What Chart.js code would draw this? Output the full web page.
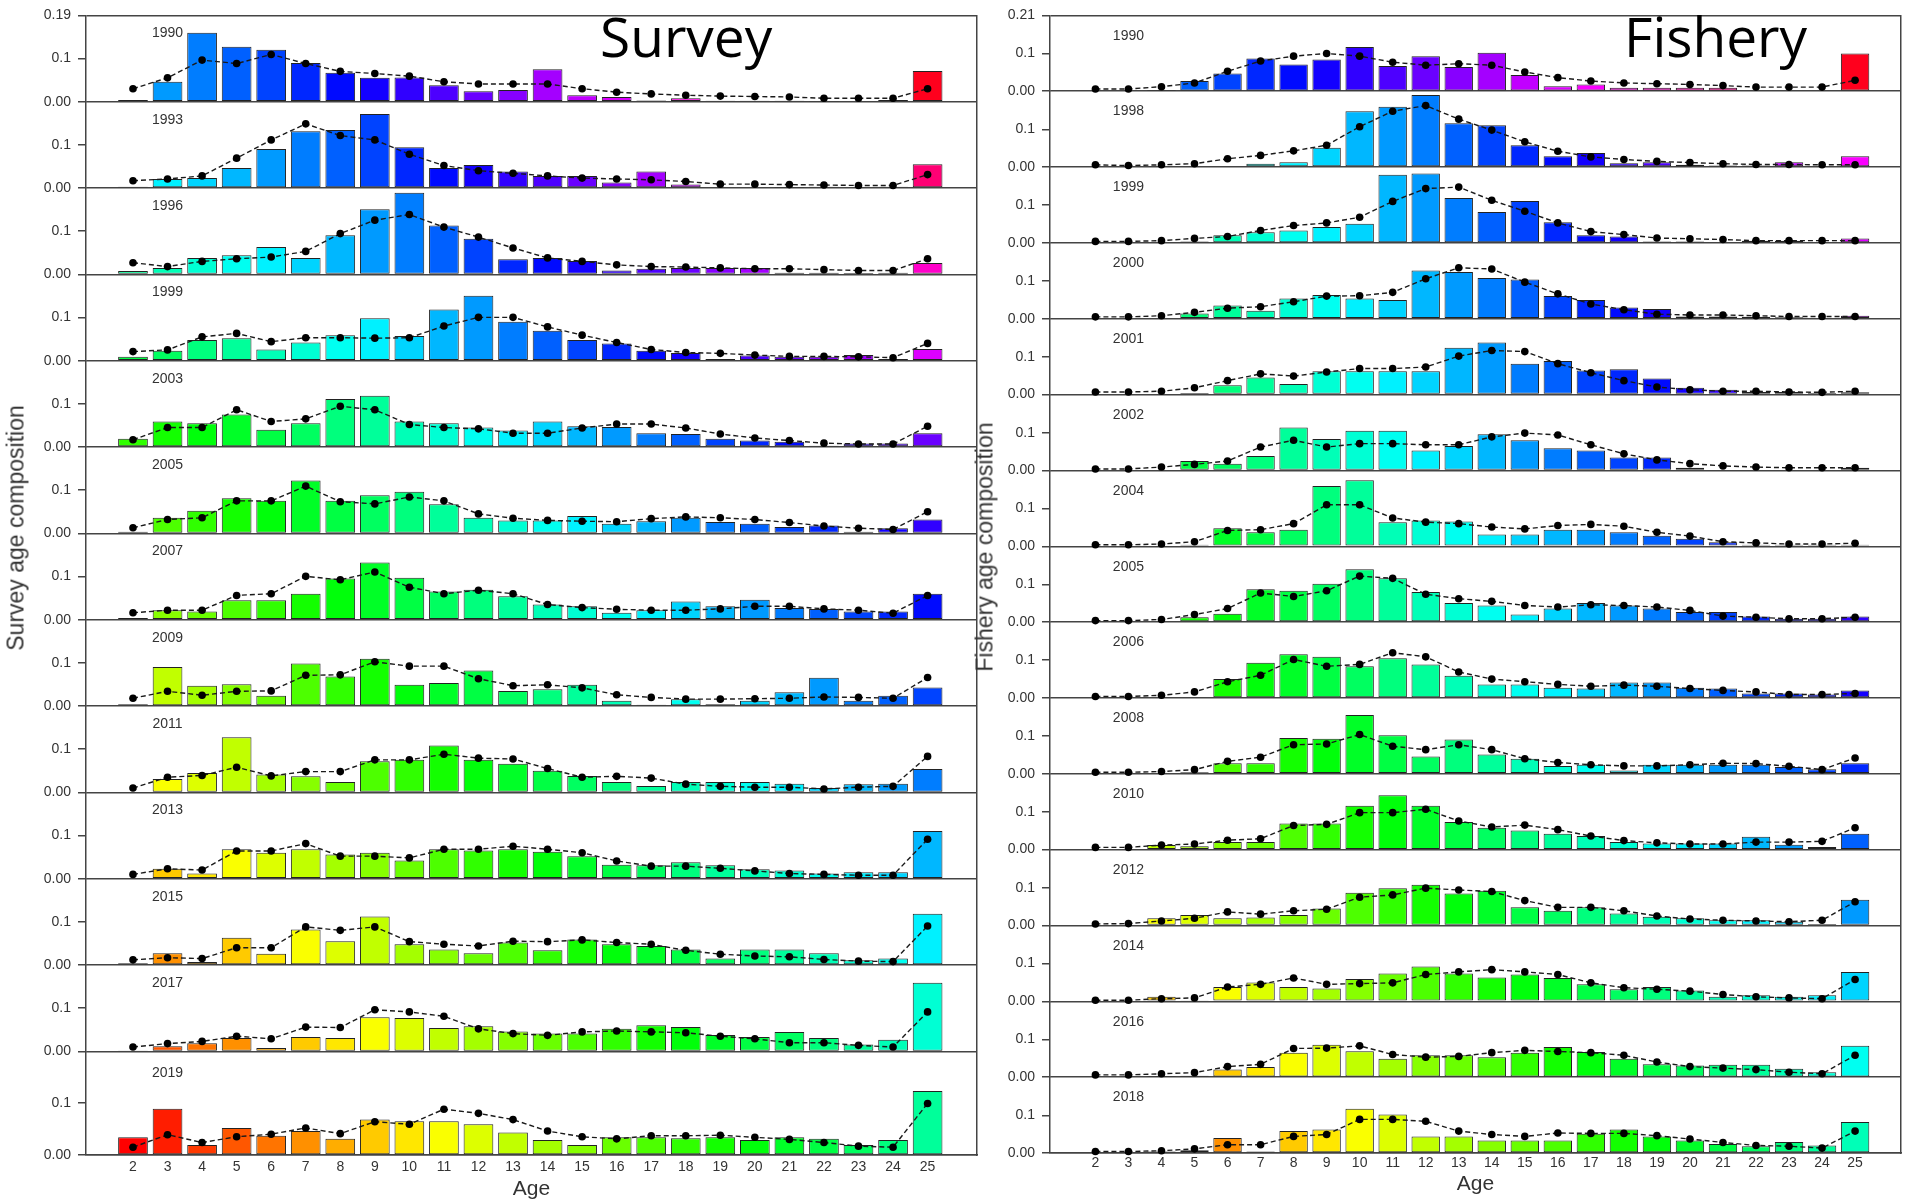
<!DOCTYPE html>
<html>
<head>
<meta charset="utf-8">
<script src="https://cdn.jsdelivr.net/npm/chart.js@4.4.0/dist/chart.umd.min.js"></script>
<style>
html,body{margin:0;padding:0;background:#fff;}
body{width:1905px;height:1202px;position:relative;overflow:hidden;font-family:"Liberation Sans",Arial,sans-serif;}
#wrapS{position:absolute;left:0;top:0;width:985px;height:1202px;}
#wrapF{position:absolute;left:985px;top:0;width:920px;height:1202px;}
.ttl{position:absolute;font-family:"Open Sans",sans-serif;font-size:55px;line-height:1;color:#000;white-space:nowrap;}
.ytl{position:absolute;font-family:"Liberation Sans",Arial,sans-serif;font-size:23px;line-height:1;color:#333;white-space:nowrap;transform:translate(-50%,-50%) rotate(-90deg);}
</style>
</head>
<body>
<div id="wrapS"><canvas id="cS"></canvas></div>
<div id="wrapF"><canvas id="cF"></canvas></div>
<div class="ttl" style="left:600px;top:8px;">Survey</div>
<div class="ttl" style="left:1624px;top:8px;">Fishery</div>
<div class="ytl" style="left:16px;top:528px;">Survey age composition</div>
<div class="ytl" style="left:985px;top:547px;">Fishery age composition</div>
<script>
// ---------- categories ----------
const ages = [2,3,4,5,6,7,8,9,10,11,12,13,14,15,16,17,18,19,20,21,22,23,24,25];
const surveyYears = [1990,1993,1996,1999,2003,2005,2007,2009,2011,2013,2015,2017,2019];
const fisheryYears = [1990,1998,1999,2000,2001,2002,2004,2005,2006,2008,2010,2012,2014,2016,2018];

// ---------- y tick labels ----------
const yTickValues = [0, 0.1];
const yTickLabels = ['0.00', '0.1'];
const surveyYMax = 0.199, surveyTopLabel = '0.19';
const fisheryYMax = 0.201, fisheryTopLabel = '0.21';

// ---------- survey: observed (bars) and expected (dots) ----------
const s1990obs = [0.004,0.046,0.159,0.127,0.12,0.089,0.067,0.055,0.056,0.038,0.024,0.027,0.075,0.015,0.011,0.003,0.008,0.002,0.002,0.002,0.001,0,0.004,0.071];
const s1990exp = [0.030,0.055,0.096,0.088,0.109,0.088,0.070,0.065,0.059,0.046,0.041,0.041,0.041,0.030,0.022,0.018,0.015,0.013,0.012,0.011,0.008,0.008,0.008,0.030];
const s1993obs = [0.003,0.021,0.023,0.046,0.09,0.131,0.134,0.171,0.094,0.046,0.053,0.038,0.028,0.028,0.013,0.038,0.008,0.002,0,0.001,0.003,0.002,0.003,0.055];
const s1993exp = [0.017,0.021,0.028,0.069,0.111,0.148,0.121,0.111,0.078,0.052,0.040,0.034,0.028,0.023,0.021,0.019,0.015,0.009,0.009,0.008,0.007,0.006,0.006,0.031];
const s1996obs = [0.008,0.015,0.038,0.044,0.063,0.038,0.09,0.15,0.188,0.113,0.082,0.035,0.038,0.031,0.009,0.013,0.015,0.015,0.015,0.004,0.004,0.003,0.004,0.026];
const s1996exp = [0.027,0.018,0.030,0.036,0.040,0.053,0.094,0.125,0.138,0.109,0.086,0.061,0.038,0.030,0.022,0.018,0.017,0.015,0.013,0.013,0.011,0.009,0.009,0.036];
const s1999obs = [0.009,0.023,0.048,0.052,0.026,0.042,0.059,0.098,0.057,0.118,0.15,0.09,0.069,0.048,0.04,0.023,0.018,0.004,0.012,0.009,0.009,0.013,0.004,0.027];
const s1999exp = [0.021,0.025,0.055,0.063,0.044,0.053,0.053,0.052,0.053,0.080,0.100,0.100,0.078,0.059,0.042,0.026,0.019,0.017,0.013,0.010,0.010,0.009,0.007,0.040];
const s2003obs = [0.019,0.059,0.055,0.075,0.04,0.055,0.111,0.118,0.059,0.055,0.045,0.038,0.059,0.048,0.046,0.032,0.03,0.019,0.015,0.012,0.003,0.008,0.008,0.032];
const s2003exp = [0.017,0.045,0.045,0.086,0.059,0.065,0.094,0.086,0.052,0.045,0.042,0.032,0.032,0.044,0.053,0.053,0.044,0.030,0.021,0.015,0.009,0.007,0.007,0.048];
const s2005obs = [0.004,0.036,0.052,0.081,0.075,0.122,0.075,0.088,0.096,0.067,0.036,0.03,0.03,0.04,0.022,0.028,0.036,0.026,0.022,0.015,0.018,0.004,0.012,0.032];
const s2005exp = [0.013,0.032,0.036,0.075,0.075,0.109,0.073,0.068,0.084,0.075,0.045,0.035,0.030,0.028,0.027,0.034,0.038,0.036,0.032,0.025,0.017,0.012,0.009,0.050];
const s2007obs = [0.004,0.022,0.019,0.045,0.045,0.06,0.095,0.132,0.097,0.065,0.069,0.054,0.035,0.031,0.016,0.022,0.042,0.031,0.046,0.027,0.025,0.019,0.019,0.06];
const s2007exp = [0.016,0.022,0.022,0.056,0.060,0.100,0.092,0.110,0.075,0.060,0.068,0.060,0.035,0.028,0.024,0.022,0.022,0.025,0.031,0.031,0.025,0.022,0.015,0.056];
const s2009obs = [0.004,0.09,0.047,0.05,0.024,0.098,0.068,0.109,0.049,0.053,0.082,0.035,0.039,0.049,0.012,0.003,0.016,0.004,0.012,0.032,0.065,0.012,0.024,0.043];
const s2009exp = [0.018,0.034,0.025,0.034,0.035,0.071,0.072,0.102,0.092,0.092,0.063,0.047,0.049,0.042,0.026,0.020,0.016,0.016,0.017,0.018,0.021,0.020,0.018,0.066];
const s2011obs = [0,0.031,0.045,0.127,0.041,0.037,0.024,0.072,0.075,0.108,0.075,0.066,0.05,0.038,0.024,0.015,0.024,0.024,0.024,0.02,0.01,0.019,0.02,0.054];
const s2011exp = [0.010,0.035,0.039,0.058,0.038,0.048,0.048,0.075,0.075,0.088,0.079,0.077,0.055,0.035,0.037,0.033,0.019,0.014,0.012,0.012,0.008,0.012,0.014,0.083];
const s2013obs = [0,0.023,0.012,0.068,0.06,0.068,0.056,0.06,0.042,0.068,0.065,0.068,0.062,0.052,0.032,0.031,0.038,0.031,0.022,0.019,0.012,0.015,0.015,0.11];
const s2013exp = [0.010,0.023,0.020,0.064,0.064,0.081,0.052,0.052,0.048,0.068,0.068,0.075,0.068,0.060,0.041,0.029,0.029,0.024,0.018,0.012,0.010,0.008,0.008,0.091];
const s2015obs = [0.004,0.027,0.007,0.063,0.026,0.082,0.055,0.112,0.048,0.036,0.027,0.052,0.034,0.059,0.048,0.044,0.036,0.015,0.036,0.036,0.027,0.011,0.015,0.118];
const s2015exp = [0.012,0.017,0.015,0.040,0.040,0.088,0.080,0.088,0.054,0.048,0.044,0.055,0.054,0.058,0.052,0.048,0.034,0.025,0.021,0.019,0.013,0.009,0.008,0.090];
const s2017obs = [0.002,0.012,0.019,0.031,0.008,0.033,0.031,0.079,0.077,0.054,0.058,0.046,0.041,0.041,0.052,0.06,0.056,0.038,0.033,0.045,0.031,0.016,0.027,0.158];
const s2017exp = [0.010,0.018,0.023,0.035,0.029,0.056,0.055,0.096,0.091,0.081,0.052,0.041,0.037,0.045,0.047,0.045,0.043,0.035,0.029,0.020,0.020,0.014,0.010,0.091];
const s2019obs = [0.034,0.089,0.019,0.052,0.037,0.046,0.031,0.068,0.065,0.065,0.059,0.043,0.029,0.019,0.034,0.034,0.032,0.034,0.029,0.034,0.031,0.019,0.029,0.123];
const s2019exp = [0.015,0.039,0.024,0.035,0.040,0.052,0.041,0.064,0.059,0.088,0.080,0.068,0.046,0.035,0.031,0.037,0.037,0.038,0.034,0.030,0.024,0.017,0.015,0.099];

// ---------- fishery: observed (bars) and expected (dots) ----------
const f1990obs = [0,0,0.003,0.027,0.047,0.087,0.071,0.084,0.117,0.067,0.093,0.064,0.102,0.043,0.013,0.018,0.009,0.009,0.009,0.009,0,0.002,0.002,0.1];
const f1990exp = [0.006,0.006,0.012,0.022,0.053,0.080,0.093,0.100,0.093,0.077,0.069,0.073,0.069,0.051,0.036,0.027,0.022,0.020,0.018,0.015,0.011,0.011,0.011,0.029];
const f1998obs = [0,0.002,0.002,0.002,0,0.009,0.013,0.051,0.148,0.16,0.191,0.116,0.111,0.058,0.029,0.037,0.01,0.013,0.006,0.004,0.004,0.013,0.002,0.029];
const f1998exp = [0.006,0.004,0.006,0.009,0.022,0.031,0.043,0.058,0.107,0.148,0.163,0.127,0.098,0.067,0.042,0.027,0.020,0.015,0.012,0.009,0.007,0.007,0.006,0.006];
const f1999obs = [0,0,0.002,0.004,0.02,0.028,0.033,0.042,0.051,0.181,0.184,0.119,0.082,0.111,0.055,0.02,0.017,0.004,0.004,0.002,0.006,0.006,0.002,0.012];
const f1999exp = [0.004,0.004,0.006,0.012,0.017,0.033,0.046,0.053,0.068,0.110,0.144,0.148,0.113,0.084,0.053,0.030,0.022,0.013,0.011,0.009,0.006,0.006,0.006,0.006];
const f2000obs = [0,0,0.002,0.014,0.035,0.021,0.054,0.063,0.054,0.05,0.128,0.124,0.108,0.104,0.06,0.05,0.03,0.026,0.006,0.006,0.005,0.004,0.002,0.008];
const f2000exp = [0.005,0.005,0.008,0.017,0.028,0.032,0.045,0.060,0.061,0.070,0.106,0.135,0.132,0.097,0.066,0.039,0.024,0.012,0.010,0.010,0.008,0.006,0.006,0.006];
const f2001obs = [0,0.002,0.002,0.004,0.025,0.045,0.028,0.062,0.062,0.062,0.062,0.124,0.138,0.082,0.089,0.064,0.067,0.043,0.018,0.013,0.007,0.007,0.004,0.006];
const f2001exp = [0.007,0.007,0.009,0.018,0.037,0.055,0.049,0.060,0.069,0.069,0.073,0.102,0.117,0.114,0.082,0.058,0.037,0.020,0.013,0.009,0.009,0.007,0.006,0.009];
const f2002obs = [0,0.002,0.002,0.025,0.018,0.038,0.114,0.083,0.105,0.105,0.053,0.065,0.096,0.08,0.059,0.053,0.034,0.034,0.007,0.002,0.002,0.002,0.002,0.007];
const f2002exp = [0.004,0.004,0.009,0.016,0.025,0.062,0.080,0.062,0.071,0.071,0.068,0.068,0.089,0.099,0.094,0.068,0.044,0.028,0.018,0.012,0.009,0.007,0.007,0.007];
const f2004obs = [0,0,0.002,0.004,0.048,0.037,0.044,0.16,0.175,0.064,0.068,0.066,0.031,0.031,0.044,0.044,0.037,0.028,0.02,0.011,0.004,0.004,0.004,0.004];
const f2004exp = [0.004,0.004,0.006,0.012,0.042,0.044,0.060,0.110,0.110,0.075,0.064,0.060,0.051,0.046,0.055,0.058,0.053,0.037,0.027,0.012,0.009,0.006,0.006,0.008];
const f2005obs = [0,0.002,0.002,0.013,0.022,0.087,0.083,0.102,0.14,0.116,0.08,0.051,0.044,0.02,0.036,0.051,0.044,0.036,0.027,0.027,0.015,0.009,0.009,0.015];
const f2005exp = [0.004,0.004,0.007,0.020,0.036,0.077,0.068,0.083,0.122,0.116,0.074,0.062,0.055,0.044,0.040,0.046,0.044,0.040,0.031,0.016,0.013,0.009,0.009,0.013];
const f2006obs = [0,0,0.002,0.002,0.05,0.093,0.116,0.109,0.084,0.105,0.089,0.059,0.036,0.036,0.027,0.025,0.041,0.041,0.027,0.025,0.012,0.012,0.009,0.02];
const f2006exp = [0.004,0.004,0.007,0.016,0.043,0.060,0.102,0.084,0.089,0.120,0.109,0.069,0.050,0.043,0.036,0.031,0.034,0.031,0.025,0.020,0.016,0.009,0.009,0.012];
const f2008obs = [0,0,0.002,0.004,0.028,0.028,0.095,0.093,0.156,0.102,0.046,0.091,0.051,0.04,0.021,0.024,0.009,0.024,0.024,0.024,0.024,0.018,0.012,0.028];
const f2008exp = [0.004,0.004,0.006,0.011,0.033,0.044,0.077,0.079,0.104,0.073,0.064,0.077,0.064,0.040,0.030,0.024,0.021,0.021,0.024,0.028,0.027,0.020,0.011,0.042];
const f2010obs = [0,0.002,0.012,0.009,0.02,0.02,0.069,0.069,0.116,0.144,0.116,0.073,0.058,0.051,0.042,0.036,0.02,0.016,0.016,0.016,0.034,0.013,0.007,0.042];
const f2010exp = [0.006,0.006,0.012,0.015,0.025,0.029,0.064,0.067,0.098,0.098,0.107,0.076,0.060,0.065,0.053,0.036,0.024,0.018,0.015,0.015,0.020,0.020,0.022,0.058];
const f2012obs = [0,0,0.019,0.028,0.019,0.021,0.028,0.045,0.087,0.099,0.108,0.085,0.092,0.048,0.039,0.048,0.032,0.023,0.019,0.014,0.014,0.01,0.004,0.068];
const f2012exp = [0.004,0.005,0.012,0.019,0.036,0.030,0.039,0.043,0.075,0.081,0.099,0.094,0.090,0.066,0.048,0.048,0.039,0.025,0.017,0.014,0.012,0.010,0.014,0.063];
const f2014obs = [0,0,0.012,0.003,0.038,0.05,0.038,0.034,0.059,0.074,0.092,0.074,0.063,0.071,0.062,0.045,0.032,0.038,0.029,0.012,0.016,0.012,0.016,0.078];
const f2014exp = [0.003,0.003,0.007,0.009,0.038,0.045,0.062,0.045,0.047,0.049,0.071,0.078,0.084,0.078,0.071,0.049,0.036,0.032,0.027,0.018,0.012,0.009,0.007,0.058];
const f2016obs = [0,0.002,0.003,0.004,0.02,0.027,0.065,0.086,0.069,0.049,0.058,0.058,0.053,0.065,0.08,0.067,0.049,0.034,0.031,0.033,0.033,0.022,0.013,0.083];
const f2016exp = [0.006,0.006,0.009,0.012,0.028,0.034,0.076,0.077,0.083,0.060,0.053,0.055,0.065,0.071,0.068,0.065,0.058,0.040,0.028,0.024,0.020,0.013,0.009,0.058];
const f2018obs = [0,0.002,0.004,0.007,0.04,0.004,0.058,0.062,0.117,0.102,0.044,0.044,0.033,0.033,0.033,0.051,0.062,0.044,0.033,0.024,0.018,0.029,0.02,0.082];
const f2018exp = [0.004,0.004,0.006,0.011,0.022,0.022,0.044,0.049,0.089,0.089,0.084,0.058,0.049,0.044,0.053,0.052,0.052,0.046,0.037,0.028,0.020,0.018,0.013,0.058];

// tables built from the arrays above
const surveyObs = [s1990obs,s1993obs,s1996obs,s1999obs,s2003obs,s2005obs,s2007obs,s2009obs,s2011obs,s2013obs,s2015obs,s2017obs,s2019obs];
const surveyExp = [s1990exp,s1993exp,s1996exp,s1999exp,s2003exp,s2005exp,s2007exp,s2009exp,s2011exp,s2013exp,s2015exp,s2017exp,s2019exp];
const fisheryObs = [f1990obs,f1998obs,f1999obs,f2000obs,f2001obs,f2002obs,f2004obs,f2005obs,f2006obs,f2008obs,f2010obs,f2012obs,f2014obs,f2016obs,f2018obs];
const fisheryExp = [f1990exp,f1998exp,f1999exp,f2000exp,f2001exp,f2002exp,f2004exp,f2005exp,f2006exp,f2008exp,f2010exp,f2012exp,f2014exp,f2016exp,f2018exp];

// ---------- styling ----------
const FONT = '"Liberation Sans", Arial, sans-serif';
Chart.defaults.font.family = FONT;
const AXIS = '#444';
const newestCohort = 2017, nCohorts = 53;   // rainbow palette by cohort (year - age)
function cohortColor(year, age) {
  const h = ((newestCohort - (year - age)) / nCohorts) * 360;
  return 'hsl(' + h.toFixed(1) + ',100%,50%)';
}

const yearLabelPlugin = {
  id: 'yearLabels',
  afterDatasetsDraw(chart, args, opts) {
    const ctx = chart.ctx, xs = chart.scales.x;
    ctx.save();
    ctx.font = '14px ' + FONT;
    ctx.fillStyle = '#333';
    ctx.textAlign = 'center';
    ctx.textBaseline = 'middle';
    opts.years.forEach((yr, i) => {
      const ys = chart.scales['y' + i];
      ctx.fillText(String(yr), xs.getPixelForValue(opts.age), ys.getPixelForValue(opts.value));
    });
    ctx.restore();
  }
};

function makePanel(canvasId, years, obsRows, expRows, cfg) {
  const datasets = [];
  years.forEach((yr, i) => {
    datasets.push({
      type: 'line', label: yr + ' expected',
      data: ages.map((a, k) => ({x: a, y: expRows[i][k]})),
      xAxisID: 'x', yAxisID: 'y' + i,
      borderColor: '#1a1a1a', borderWidth: 1.4, borderDash: [5, 3],
      pointRadius: 3.8, pointBackgroundColor: '#000', pointBorderWidth: 0,
      tension: 0, order: 0, clip: false
    });
    datasets.push({
      type: 'bar', label: yr + ' observed',
      data: ages.map((a, k) => ({x: a, y: obsRows[i][k] > 0 ? obsRows[i][k] : null})),
      xAxisID: 'x', yAxisID: 'y' + i,
      backgroundColor: ages.map(a => cohortColor(yr, a)),
      borderColor: '#222', borderWidth: 1, borderSkipped: false,
      grouped: false, barPercentage: 0.86, categoryPercentage: 1,
      order: 1, clip: false
    });
  });

  const scales = {
    x: {
      type: 'linear', position: 'bottom', min: cfg.xMin, max: cfg.xMax, offset: false,
      afterBuildTicks: s => { s.ticks = ages.map(v => ({value: v})); },
      afterFit: s => { s.height = cfg.xAxisHeight; s.paddingLeft = 0; s.paddingRight = 0; },
      grid: {display: false, drawTicks: false, offset: false},
      border: {display: true, color: AXIS, width: 1.5},
      ticks: {font: {size: 14}, color: '#333', padding: cfg.xTickPad, autoSkip: false, maxRotation: 0},
      title: {display: true, text: 'Age', font: {size: 21}, color: '#333', padding: {top: 0, bottom: cfg.titlePad}}
    },
    yr: {
      type: 'linear', position: 'right', min: 0, max: 1,
      afterFit: s => { s.width = 0; },
      ticks: {display: false},
      grid: {display: false, drawTicks: false},
      border: {display: true, color: AXIS, width: 1.5}
    }
  };
  const n = years.length;
  years.forEach((yr, i) => {
    const isTop = i === 0;
    scales['y' + i] = {
      type: 'linear', position: 'left', stack: 'rows',
      stackWeight: (i === n - 1) ? cfg.lastWeight : 1,
      weight: n - i,
      min: 0, max: cfg.yMax,
      afterBuildTicks: s => {
        const v = yTickValues.slice();
        if (isTop) v.push(cfg.yMax);
        s.ticks = v.map(x => ({value: x}));
      },
      afterFit: s => { s.width = cfg.yAxisWidth; },
      ticks: {
        autoSkip: false, font: {size: 14}, color: '#333', padding: 7,
        callback: v => (v === cfg.yMax ? cfg.topLabel : yTickLabels[yTickValues.indexOf(v)])
      },
      grid: {
        color: c => (c.tick && (c.tick.value === 0 || c.tick.value === cfg.yMax)) ? AXIS : 'rgba(0,0,0,0)',
        tickColor: AXIS, tickLength: 8, lineWidth: 1.5
      },
      border: {display: true, color: AXIS, width: 1.5}
    };
  });

  return new Chart(document.getElementById(canvasId), {
    type: 'bar',
    data: {datasets},
    options: {
      responsive: true, maintainAspectRatio: false, animation: false, devicePixelRatio: 1,
      layout: {padding: cfg.padding},
      plugins: {
        legend: {display: false}, tooltip: {enabled: false},
        yearLabels: {years: years, age: 3, value: cfg.labelValue}
      },
      scales
    },
    plugins: [yearLabelPlugin]
  });
}

makePanel('cS', surveyYears, surveyObs, surveyExp, {
  xMin: 0.64, xMax: 26.43, yMax: surveyYMax, topLabel: surveyTopLabel,
  lastWeight: 1.2, yAxisWidth: 86, xAxisHeight: 47, xTickPad: 4, titlePad: 0,
  labelValue: 0.157, padding: {left: 0, top: 13, right: 8, bottom: 0}
});
makePanel('cF', fisheryYears, fisheryObs, fisheryExp, {
  xMin: 0.625, xMax: 26.39, yMax: fisheryYMax, topLabel: fisheryTopLabel,
  lastWeight: 1, yAxisWidth: 65, xAxisHeight: 49, xTickPad: 2, titlePad: 5,
  labelValue: 0.147, padding: {left: 0, top: 13, right: 1, bottom: 0}
});
</script>
</body>
</html>
